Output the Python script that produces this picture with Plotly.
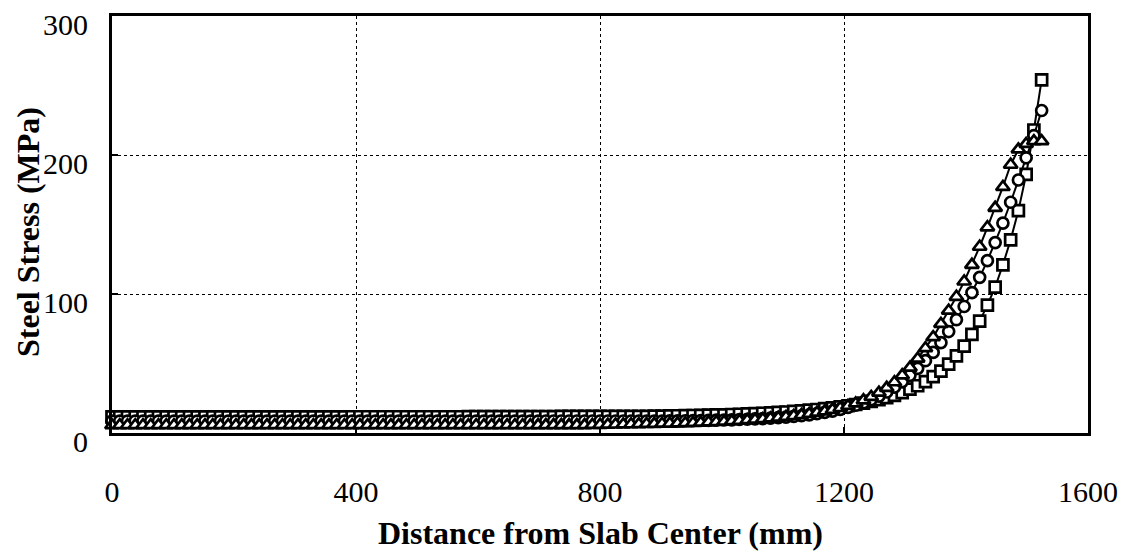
import plotly.graph_objects as go

# Stations along the bar, every 12.7 mm from the slab centre to the free edge
distance_mm = [round(12.7 * i, 1) for i in range(121)]

# Steel stress (MPa) at each station, three cases
stress_square = [
    11.6, 11.6, 11.6, 11.6, 11.6, 11.6, 11.6, 11.6, 11.6, 11.6,
    11.6, 11.6, 11.6, 11.6, 11.6, 11.6, 11.6, 11.6, 11.6, 11.6,
    11.6, 11.6, 11.6, 11.6, 11.6, 11.6, 11.6, 11.6, 11.6, 11.6,
    11.6, 11.7, 11.7, 11.7, 11.7, 11.7, 11.7, 11.7, 11.7, 11.7,
    11.7, 11.7, 11.7, 11.7, 11.7, 11.7, 11.8, 11.8, 11.8, 11.8,
    11.8, 11.8, 11.8, 11.8, 11.8, 11.8, 11.8, 11.8, 11.9, 11.9,
    11.9, 11.9, 11.9, 11.9, 11.9, 12.0, 12.0, 12.0, 12.0, 12.0,
    12.1, 12.2, 12.3, 12.4, 12.5, 12.6, 12.7, 12.8, 13.0, 13.1,
    13.3, 13.5, 13.7, 14.0, 14.2, 14.5, 14.8, 15.1, 15.5, 15.9,
    16.4, 16.9, 17.5, 18.1, 18.8, 19.6, 20.5, 21.5, 22.7, 24.0,
    25.5, 27.0, 29.0, 31.5, 34.0, 37.0, 40.5, 44.5, 49.5, 55.5,
    62.5, 71.0, 80.5, 92.0, 105, 121, 139, 160, 186, 218,
    254,
]

stress_circle = [
    8.6, 8.6, 8.6, 8.6, 8.6, 8.6, 8.6, 8.6, 8.6, 8.6,
    8.6, 8.6, 8.6, 8.6, 8.6, 8.6, 8.6, 8.6, 8.6, 8.6,
    8.6, 8.6, 8.6, 8.6, 8.6, 8.6, 8.6, 8.6, 8.6, 8.6,
    8.6, 8.6, 8.6, 8.6, 8.6, 8.6, 8.6, 8.6, 8.6, 8.6,
    8.6, 8.6, 8.6, 8.6, 8.6, 8.6, 8.6, 8.6, 8.6, 8.6,
    8.6, 8.6, 8.6, 8.6, 8.6, 8.6, 8.65, 8.65, 8.65, 8.65,
    8.65, 8.65, 8.65, 8.65, 8.65, 8.65, 8.65, 8.65, 8.65, 8.65,
    8.65, 8.65, 8.7, 8.75, 8.8, 8.9, 9.0, 9.1, 9.2, 9.35,
    9.5, 9.7, 9.9, 10.1, 10.4, 10.7, 11.0, 11.4, 11.9, 12.4,
    13.1, 13.9, 14.8, 15.8, 17.0, 18.4, 20.0, 21.8, 24.0, 26.5,
    29.5, 33.0, 37.0, 41.5, 46.5, 52.0, 58.0, 65.0, 73.0, 81.5,
    91.0, 101, 112, 124, 137, 151, 166, 182, 198, 214,
    232,
]

stress_triangle = [
    5.6, 5.6, 5.6, 5.6, 5.6, 5.6, 5.6, 5.6, 5.6, 5.6,
    5.6, 5.6, 5.6, 5.6, 5.6, 5.6, 5.6, 5.6, 5.6, 5.6,
    5.6, 5.6, 5.6, 5.6, 5.6, 5.6, 5.6, 5.6, 5.6, 5.6,
    5.6, 5.6, 5.6, 5.6, 5.6, 5.6, 5.6, 5.6, 5.6, 5.6,
    5.6, 5.6, 5.6, 5.6, 5.6, 5.6, 5.6, 5.6, 5.6, 5.6,
    5.6, 5.6, 5.6, 5.6, 5.6, 5.7, 5.7, 5.7, 5.7, 5.7,
    5.7, 5.7, 5.8, 5.9, 6.0, 6.1, 6.2, 6.3, 6.4, 6.5,
    6.6, 6.7, 6.8, 6.95, 7.1, 7.3, 7.5, 7.7, 7.9, 8.2,
    8.5, 8.8, 9.2, 9.6, 10.0, 10.5, 11.0, 11.6, 12.2, 12.9,
    13.7, 14.6, 15.6, 16.7, 18.0, 19.5, 21.3, 23.5, 26.0, 29.0,
    32.5, 36.5, 41.5, 47.0, 53.5, 61.0, 69.0, 78.5, 88.0, 98.0,
    109, 121, 134, 148, 162, 177, 193, 204, 208, 210,
    210,
]

x_ticks = [0, 400, 800, 1200, 1600]
y_ticks = [0, 100, 200, 300]

FONT = "Liberation Serif, Times New Roman, serif"
TICK_SIZE = 30
TITLE_SIZE = 32

fig = go.Figure()

for values, symbol, size in [
    (stress_square, "square", 11),
    (stress_circle, "circle", 11),
    (stress_triangle, "triangle-up", 12),
]:
    fig.add_trace(go.Scatter(
        x=distance_mm,
        y=values,
        mode="lines+markers",
        line=dict(color="black", width=2),
        marker=dict(symbol=symbol, size=size, color="white",
                    line=dict(color="black", width=2.7)),
        showlegend=False,
        cliponaxis=False,
    ))

axis_common = dict(
    showline=True,
    linecolor="black",
    linewidth=2.5,
    mirror=True,
    showgrid=True,
    gridcolor="black",
    gridwidth=1,
    griddash="dot",
    zeroline=False,
    ticks="inside",
    ticklen=6,
    tickwidth=1.5,
    tickcolor="black",
)

fig.update_xaxes(
    range=[0, 1600],
    tickvals=x_ticks,
    ticktext=[str(v) for v in x_ticks],
    tickfont=dict(family=FONT, size=TICK_SIZE, color="black"),
    ticklabelstandoff=30,
    **axis_common,
)
# y labels are placed as annotations so they can sit slightly below their gridlines
fig.update_yaxes(
    range=[0, 300],
    tickvals=y_ticks,
    showticklabels=False,
    **axis_common,
)
for v in y_ticks:
    fig.add_annotation(
        text=str(v), xref="paper", yref="y", x=0, y=v,
        xanchor="right", yanchor="middle", xshift=-22, yshift=-8,
        showarrow=False,
        font=dict(family=FONT, size=TICK_SIZE, color="black"),
    )

fig.add_annotation(
    text="<b>Steel Stress (MPa)</b>",
    xref="paper", yref="paper", x=0, y=0.482,
    xanchor="center", yanchor="middle",
    xshift=-84, textangle=-90, showarrow=False,
    font=dict(family=FONT, size=TITLE_SIZE, color="black"),
)
fig.add_annotation(
    text="<b>Distance from Slab Center (mm)</b>",
    xref="paper", yref="paper", x=0.5, y=0,
    xanchor="center", yanchor="middle",
    yshift=-100, showarrow=False,
    font=dict(family=FONT, size=TITLE_SIZE, color="black"),
)

fig.update_layout(
    width=1129,
    height=552,
    margin=dict(l=112, r=41, t=16, b=119),
    paper_bgcolor="white",
    plot_bgcolor="white",
    font=dict(family=FONT, color="black"),
)

fig.write_html("out.html")
